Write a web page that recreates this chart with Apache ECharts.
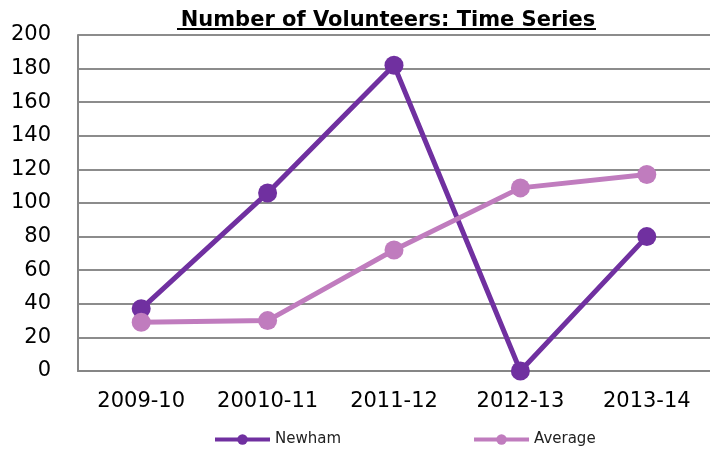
<!DOCTYPE html>
<html>
<head>
<meta charset="utf-8">
<script src="https://cdn.jsdelivr.net/npm/echarts@6/dist/echarts.min.js"></script>
<style>
  html, body { margin: 0; padding: 0; background: #fff; }
  #chart { width: 710px; height: 450px; }
</style>
</head>
<body>
<div id="chart"></div>
<script>
// data
const categories = ['2009-10', '20010-11', '2011-12', '2012-13', '2013-14'];
const newham = [37, 106, 182, 0, 80];
const average = [29, 30, 72, 109, 117];

const chart = echarts.init(document.getElementById('chart'));
const font = 'DejaVu Sans, Verdana, sans-serif';

chart.setOption({
  animation: false,
  title: {
    text: 'Number of Volunteers: Time Series',
    left: 383,
    textAlign: 'center',
    top: 5,
    textStyle: { fontFamily: font, fontSize: 21, fontWeight: 'bold', color: '#000' },
  },
  graphic: [
    // underline for the title
    { type: 'rect', shape: { x: 177, y: 28, width: 419, height: 2 }, style: { fill: '#000' } },
  ],
  grid: { left: 78, right: 0, top: 35, bottom: 79 },
  legend: {
    top: 427,
    left: 208,
    itemWidth: 55,
    itemHeight: 13,
    itemGap: 131,
    lineStyle: { width: 4 },
    textStyle: { fontFamily: font, fontSize: 15, color: '#222' },
    data: ['Newham', 'Average'],
  },
  xAxis: {
    type: 'category',
    data: categories,
    boundaryGap: true,
    axisLine: { lineStyle: { color: '#868686', width: 2 } },
    axisTick: { show: false },
    axisLabel: { fontFamily: font, fontSize: 21, color: '#000', margin: 20, interval: 0, hideOverlap: false },
  },
  yAxis: {
    type: 'value',
    min: 0,
    max: 200,
    interval: 20,
    axisLine: { show: true, lineStyle: { color: '#868686', width: 2 } },
    axisTick: { show: false },
    splitLine: { lineStyle: { color: '#8c8c8c', width: 2 } },
    axisLabel: { fontFamily: font, fontSize: 21, color: '#000', margin: 27 },
  },
  series: [
    {
      name: 'Newham',
      type: 'line',
      data: newham,
      symbol: 'circle',
      symbolSize: 19,
      lineStyle: { width: 5, color: '#7030A0' },
      itemStyle: { color: '#7030A0' },
      z: 3,
    },
    {
      name: 'Average',
      type: 'line',
      data: average,
      symbol: 'circle',
      symbolSize: 19,
      lineStyle: { width: 5, color: '#C07CBE' },
      itemStyle: { color: '#C07CBE' },
      z: 4,
    },
  ],
});
</script>
</body>
</html>
